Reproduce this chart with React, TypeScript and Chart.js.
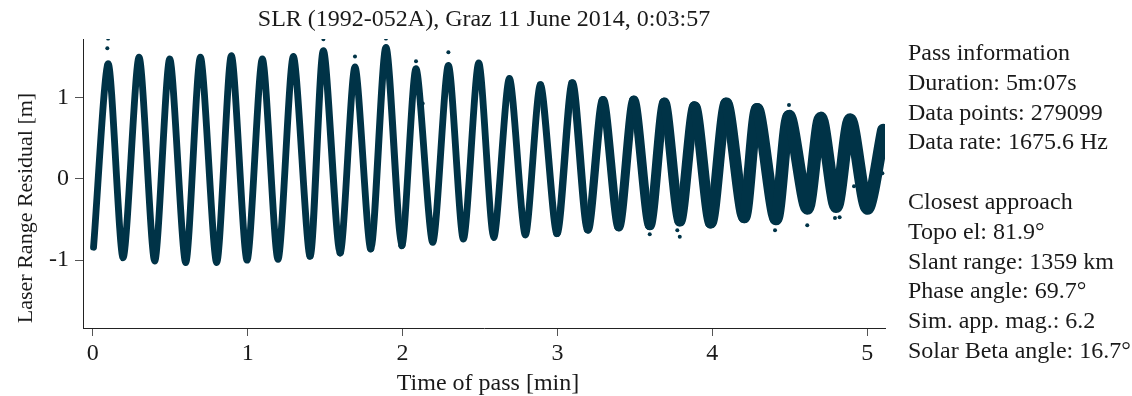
import React, { useEffect, useRef } from "react";
import { Chart, registerables } from "chart.js";

Chart.register(...registerables);

const FONT = "'Liberation Serif', 'Times New Roman', serif";
const TEXT = "#1a1a1a";
const DOT = "#003347";

const chartTitle = "SLR (1992-052A), Graz 11 June 2014, 0:03:57";
const xTitle = "Time of pass [min]";
const yTitle = "Laser Range Residual [m]";

const xTicks = [0, 1, 2, 3, 4, 5];
const yTicks = [-1, 0, 1];

// turning points of the residual curve (minutes, metres)
const timeMin = [
  0.005, 0.1, 0.196, 0.299, 0.4, 0.497, 0.6, 0.695, 0.8, 0.895, 0.996, 1.095,
  1.196, 1.295, 1.403, 1.489, 1.597, 1.693, 1.795, 1.893, 1.995, 2.087, 2.195,
  2.296, 2.393, 2.492, 2.589, 2.69, 2.793, 2.89, 2.997, 3.096, 3.196, 3.294,
  3.396, 3.493, 3.596, 3.69, 3.79, 3.886, 3.99, 4.09, 4.205, 4.29, 4.41, 4.495,
  4.613, 4.7, 4.8, 4.89, 5.0, 5.105,
];
const residualM = [
  -0.84, 1.42, -0.97, 1.5, -1.01, 1.48, -1.03, 1.5, -1.03, 1.52, -1.0, 1.48,
  -0.99, 1.51, -0.95, 1.58, -0.91, 1.38, -0.86, 1.62, -0.82, 1.36, -0.78, 1.4,
  -0.74, 1.43, -0.72, 1.24, -0.69, 1.16, -0.67, 1.18, -0.62, 0.97, -0.59, 0.97,
  -0.57, 0.94, -0.52, 0.89, -0.54, 0.93, -0.47, 0.86, -0.49, 0.77, -0.36, 0.75,
  -0.34, 0.73, -0.36, 0.6,
];
// scatter (noise) of the residuals around each turning point, metres
const scatterM = [
  0.035, 0.035, 0.035, 0.035, 0.035, 0.035, 0.035, 0.035, 0.035, 0.035, 0.035,
  0.035, 0.035, 0.035, 0.035, 0.04, 0.035, 0.035, 0.035, 0.04, 0.035, 0.035,
  0.035, 0.035, 0.035, 0.035, 0.035, 0.035, 0.035, 0.035, 0.04, 0.045, 0.05,
  0.055, 0.06, 0.065, 0.07, 0.075, 0.08, 0.085, 0.09, 0.095, 0.1, 0.1, 0.105,
  0.11, 0.11, 0.11, 0.11, 0.11, 0.11, 0.11,
];

// isolated returns
const outlierT = [
  0.094, 0.099, 1.489, 1.693, 1.893, 2.087, 2.13, 2.296, 3.596, 3.774, 3.79,
  4.405, 4.495, 4.613, 4.792, 4.822, 4.915, 5.098,
];
const outlierR = [
  1.61, 1.73, 1.72, 1.51, 1.73, 1.45, 0.93, 1.56, -0.68, -0.63, -0.71, -0.63,
  0.91, -0.57, -0.48, -0.47, -0.09, 0.07,
];

const infoLines = [
  "Pass information",
  "Duration: 5m:07s",
  "Data points: 279099",
  "Data rate: 1675.6 Hz",
  "",
  "Closest approach",
  "Topo el: 81.9°",
  "Slant range: 1359 km",
  "Phase angle: 69.7°",
  "Sim. app. mag.: 6.2",
  "Solar Beta angle: 16.7°",
];

const textPlugin = {
  id: "sideText",
  afterDraw(chart: any) {
    const { ctx, chartArea } = chart;
    ctx.save();
    ctx.fillStyle = TEXT;
    ctx.font = `24px ${FONT}`;
    ctx.textAlign = "left";
    ctx.textBaseline = "alphabetic";
    const x = chartArea.right + 23;
    infoLines.forEach((line, i) => {
      if (line) ctx.fillText(line, x, 60 + i * 29.8);
    });
    ctx.textAlign = "center";
    ctx.fillText(xTitle, (chartArea.left + chartArea.right) / 2 + 4, 390);
    ctx.font = `22px ${FONT}`;
    ctx.translate(31.5, 208);
    ctx.rotate(-Math.PI / 2);
    ctx.fillText(yTitle, 0, 0);
    ctx.restore();
  },
};

export default function App() {
  const ref = useRef<HTMLCanvasElement>(null);

  useEffect(() => {
    if (!ref.current) return;
    const baseWidth = 4;
    const chart = new Chart(ref.current, {
      type: "line",
      data: {
        datasets: [
          {
            label: "residual",
            data: timeMin.map((t, i) => ({ x: t, y: residualM[i] })),
            borderColor: DOT,
            backgroundColor: DOT,
            borderWidth: 7,
            pointRadius: 0,
            tension: 0.26,
            fill: false,
            borderCapStyle: "round",
            borderJoinStyle: "round",
            segment: {
              borderWidth: (c: any) => {
                const ys = c.chart.scales.y;
                const pxPerM = Math.abs(
                  ys.getPixelForValue(0) - ys.getPixelForValue(1)
                );
                const s = (scatterM[c.p0DataIndex] + scatterM[c.p1DataIndex]) / 2;
                return baseWidth + s * pxPerM;
              },
            },
          } as any,
          {
            label: "outliers",
            data: outlierT.map((t, i) => ({ x: t, y: outlierR[i] })),
            showLine: false,
            pointRadius: 2,
            pointBorderWidth: 0,
            pointBackgroundColor: DOT,
            borderColor: DOT,
          } as any,
        ],
      },
      options: {
        responsive: false,
        animation: false,
        devicePixelRatio: 1,
        layout: { padding: { top: 0, right: 247, bottom: 0, left: 0 } },
        plugins: {
          legend: { display: false },
          tooltip: { enabled: false },
          title: {
            display: true,
            text: chartTitle,
            color: TEXT,
            fullSize: false,
            font: { family: FONT, size: 24, weight: "normal" },
            padding: { top: 5.6, bottom: 4.6 },
          },
        },
        scales: {
          x: {
            type: "linear",
            min: -0.063,
            max: 5.115,
            afterBuildTicks: (s: any) => {
              s.ticks = xTicks.map((v) => ({ value: v }));
            },
            afterFit: (s: any) => {
              s.height = 68;
            },
            grid: {
              display: true,
              drawOnChartArea: false,
              drawTicks: true,
              tickLength: 8,
              color: "#555",
              lineWidth: 1,
            },
            border: { display: true, color: "#222", width: 1 },
            ticks: {
              color: TEXT,
              font: { family: FONT, size: 24 },
              padding: 3,
              maxRotation: 0,
              autoSkip: false,
            },
            title: { display: false },
          },
          y: {
            type: "linear",
            min: -1.835,
            max: 1.724,
            afterBuildTicks: (s: any) => {
              s.ticks = yTicks.map((v) => ({ value: v }));
            },
            afterFit: (s: any) => {
              s.width = 83;
            },
            grid: {
              display: true,
              drawOnChartArea: false,
              drawTicks: true,
              tickLength: 8,
              color: "#555",
              lineWidth: 1,
            },
            border: { display: true, color: "#222", width: 1 },
            ticks: {
              color: TEXT,
              font: { family: FONT, size: 24 },
              padding: 6,
              autoSkip: false,
            },
            title: { display: false },
          },
        },
      },
      plugins: [textPlugin],
    } as any);
    return () => chart.destroy();
  }, []);

  return (
    <div
      style={{
        position: "fixed",
        left: 0,
        top: 0,
        width: 1132,
        height: 396,
        background: "#fff",
      }}
    >
      <canvas
        ref={ref}
        width={1132}
        height={396}
        style={{ display: "block", width: 1132, height: 396 }}
      />
    </div>
  );
}
